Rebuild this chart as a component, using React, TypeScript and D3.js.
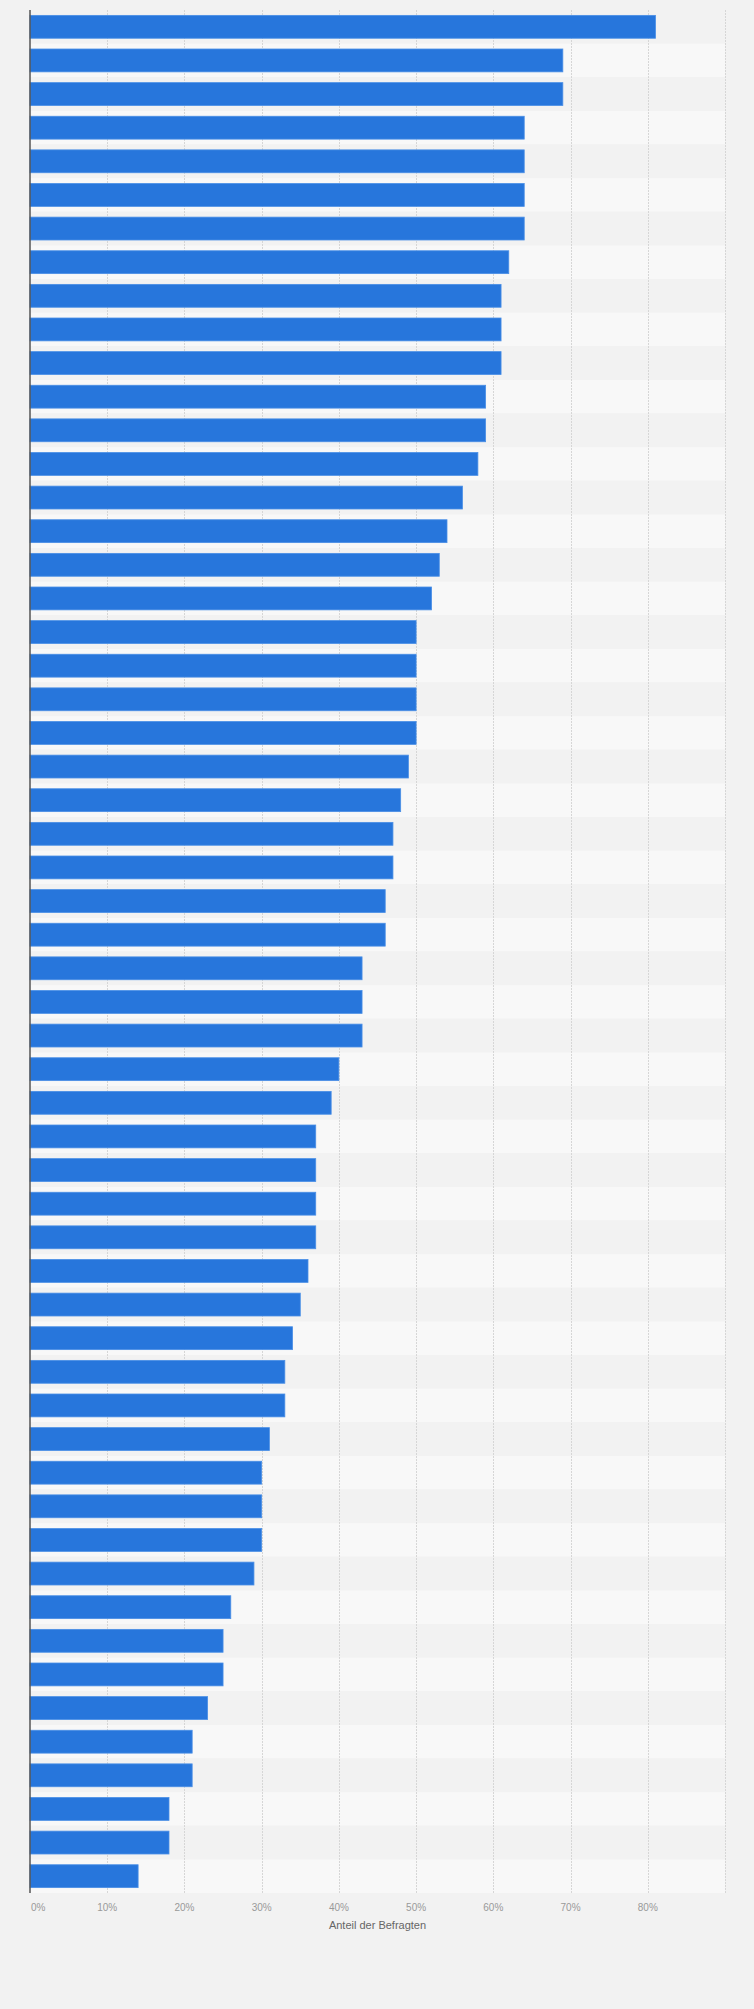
import { useEffect, useRef } from "react";
import * as d3 from "d3";

// category labels are not shown on the chart, only the row order matters
const rows: string[] = Array.from({ length: 56 }, (_, i) => `Item ${i + 1}`);
const shares: number[] = [
  81, 69, 69, 64, 64, 64, 64, 62, 61, 61, 61, 59, 59, 58, 56, 54, 53, 52, 50, 50,
  50, 50, 49, 48, 47, 47, 46, 46, 43, 43, 43, 40, 39, 37, 37, 37, 37, 36, 35, 34,
  33, 33, 31, 30, 30, 30, 29, 26, 25, 25, 23, 21, 21, 18, 18, 14,
];
const xTicks: number[] = [0, 10, 20, 30, 40, 50, 60, 70, 80];
const gridValues: number[] = [10, 20, 30, 40, 50, 60, 70, 80, 90];
const axisTitle = "Anteil der Befragten";

const WIDTH = 754;
const HEIGHT = 2009;

export default function App() {
  const svgRef = useRef<SVGSVGElement | null>(null);

  useEffect(() => {
    document.body.style.margin = "0";
    document.body.style.background = "#f2f2f2";
    if (!svgRef.current) return;
    const svg = d3.select(svgRef.current);
    svg.selectAll("*").remove();

    const margin = { top: 10, right: 29, bottom: 116, left: 30 };
    const innerWidth = WIDTH - margin.left - margin.right;
    const innerHeight = HEIGHT - margin.top - margin.bottom;
    const font = "'Liberation Sans', Arial, Helvetica, sans-serif";

    const x = d3.scaleLinear().domain([0, 90]).range([0, innerWidth]);
    const y = d3
      .scaleBand<string>()
      .domain(rows)
      .range([0, innerHeight])
      .paddingInner(0.32)
      .paddingOuter(0.16);

    svg
      .append("rect")
      .attr("width", WIDTH)
      .attr("height", HEIGHT)
      .attr("fill", "#f2f2f2");

    const g = svg
      .append("g")
      .attr("transform", `translate(${margin.left},${margin.top})`);

    // alternating row stripes
    const step = y.step();
    g.selectAll(".stripe")
      .data(rows)
      .enter()
      .append("rect")
      .attr("class", "stripe")
      .attr("x", 0)
      .attr("y", (d) => y(d)! - step * 0.16)
      .attr("width", innerWidth)
      .attr("height", step)
      .attr("fill", (_, i) => (i % 2 === 0 ? "#f2f2f2" : "#f8f8f8"));

    // vertical grid lines
    g.selectAll(".grid")
      .data(gridValues)
      .enter()
      .append("line")
      .attr("class", "grid")
      .attr("x1", (d) => Math.round(x(d)) + 0.5)
      .attr("x2", (d) => Math.round(x(d)) + 0.5)
      .attr("y1", 0)
      .attr("y2", innerHeight)
      .attr("stroke", "#d6d6d6")
      .attr("stroke-dasharray", "2,1");

    // bars
    g.selectAll(".bar")
      .data(shares)
      .enter()
      .append("rect")
      .attr("class", "bar")
      .attr("x", 0)
      .attr("y", (_, i) => y(rows[i])!)
      .attr("width", (d) => x(d))
      .attr("height", y.bandwidth())
      .attr("fill", "#2776dc")
      .attr("stroke", "#4a8fe6")
      .attr("stroke-width", 0.8);

    // left axis line
    g.append("line")
      .attr("x1", 0)
      .attr("x2", 0)
      .attr("y1", 0)
      .attr("y2", innerHeight)
      .attr("stroke", "#555")
      .attr("stroke-width", 1.5);

    // x tick labels
    g.selectAll(".tick-label")
      .data(xTicks)
      .enter()
      .append("text")
      .attr("class", "tick-label")
      .attr("x", (d) => (d === 0 ? x(d) + 1 : x(d)))
      .attr("y", innerHeight + 18)
      .attr("text-anchor", (d) => (d === 0 ? "start" : "middle"))
      .attr("font-family", font)
      .attr("font-size", 10)
      .attr("fill", "#999")
      .text((d) => `${d}%`);

    // axis title
    g.append("text")
      .attr("x", innerWidth / 2)
      .attr("y", innerHeight + 36)
      .attr("text-anchor", "middle")
      .attr("font-family", font)
      .attr("font-size", 11)
      .attr("fill", "#666")
      .text(axisTitle);
  }, []);

  return <svg ref={svgRef} width={WIDTH} height={HEIGHT} style={{ display: "block" }} />;
}
